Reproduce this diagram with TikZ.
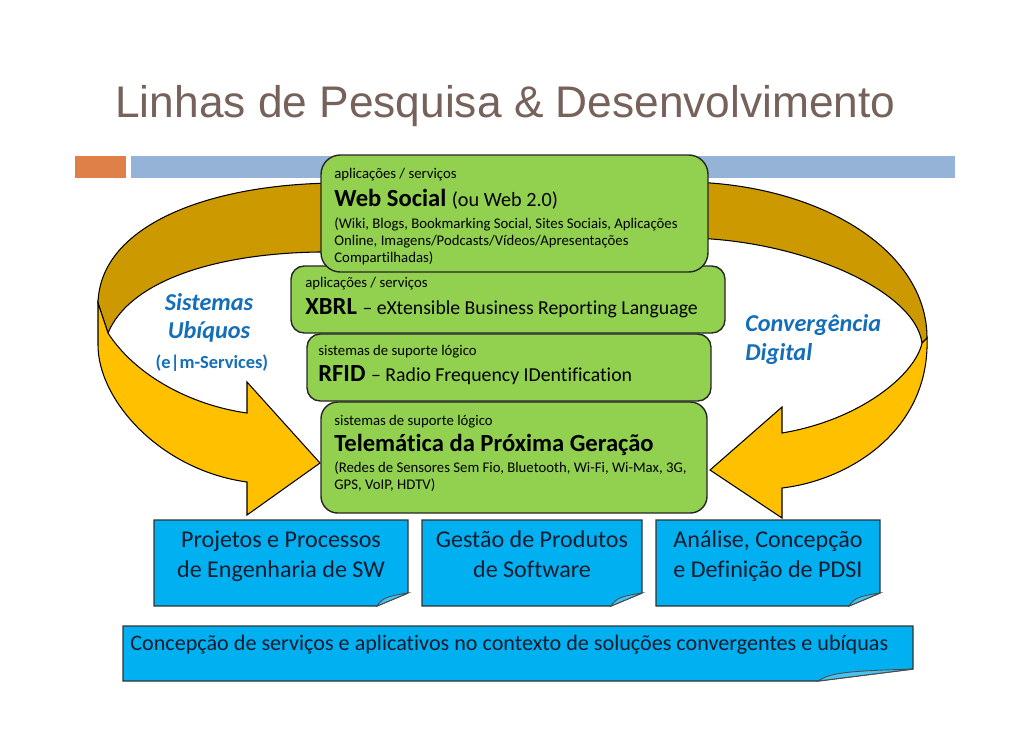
\documentclass[tikz,border=0pt]{standalone}
\usepackage{fontspec}
\setmainfont{Carlito}[Ligatures=NoCommon]
\newfontfamily\titlefont{Liberation Sans}
\definecolor{boxgreen}{RGB}{146,208,80}
\definecolor{boxblue}{RGB}{0,176,240}
\definecolor{flapblue}{RGB}{70,195,240}
\definecolor{darkgold}{RGB}{204,153,0}
\definecolor{gold}{RGB}{255,192,0}
\definecolor{labelblue}{RGB}{20,110,185}
\definecolor{titlec}{RGB}{118,98,90}
\definecolor{orangebar}{RGB}{223,128,72}
\definecolor{bluebar}{RGB}{149,179,215}
\definecolor{bluetxt}{RGB}{22,28,45}
\newcommand{\smallsz}{\fontsize{8.4}{10}\selectfont}
\newcommand{\medsz}{\fontsize{11.25}{13}\selectfont}
\newcommand{\bigsz}{\fontsize{14}{16}\selectfont\bfseries}
\tikzset{
  greenbox/.style={draw=black!85, fill=boxgreen, line width=0.8pt},
  bluebox/.style={draw=black!80, fill=boxblue, line width=0.7pt},
  flap/.style={draw=black!70, fill=flapblue, line width=0.5pt},
  ribbon/.style={draw=black, line width=0.6pt},
  txt/.style={anchor=base west, inner sep=0pt},
  smalltxt/.style={txt, font=\smallsz},
  bluetext/.style={anchor=base, inner sep=0pt, text=bluetxt, font=\fontsize{13.7}{16}\selectfont},
  sidetext/.style={anchor=base, inner sep=0pt, text=labelblue, font=\fontsize{13.8}{16}\selectfont\bfseries\itshape},
}
\begin{document}
\begin{tikzpicture}[x=0.02cm,y=-0.02cm]
\useasboundingbox[fill=white] (0,0) rectangle (1030,728);

% title
\node[txt, text=titlec, font=\titlefont\fontsize{25.2}{30}\selectfont] (title) at (115,117) {Linhas de Pesquisa \& Desenvolvimento};
\fill[orangebar] (75,156) rectangle (126,178);
\fill[bluebar] (131,156) rectangle (955,178);

% left ribbon
\path[ribbon, fill=darkgold] (340,183) .. controls (210,183) and (100,225) .. (98,303)
  -- (108,333) .. controls (130,280) and (220,250) .. (340,252) -- cycle;
\path[ribbon, fill=gold] (98,303) -- (108,333) .. controls (135,375) and (190,405) .. (247,413)
  -- (247,382) -- (320,463) -- (247,515) -- (247,482)
  .. controls (160,470) and (98,400) .. (98,345) -- cycle;

% right ribbon
\path[ribbon, fill=darkgold] (690,182) .. controls (820,185) and (927,250) .. (927,338)
  -- (922,343) .. controls (915,290) and (800,240) .. (690,238) -- cycle;
\path[ribbon, fill=gold] (927,338) -- (922,343) .. controls (915,375) and (860,420) .. (782,433)
  -- (782,407) -- (710,470) -- (782,518) -- (782,488)
  .. controls (850,480) and (930,430) .. (927,338) -- cycle;

% green boxes
\path[greenbox, rounded corners=7.5pt] (291,266) rectangle (725,333);
\path[greenbox, rounded corners=7.5pt] (307,334) rectangle (711,401);
\path[greenbox, rounded corners=9.5pt] (321,402) rectangle (707,513);
\path[greenbox, rounded corners=11pt] (321,155) rectangle (708,272);

% Web Social
\node[smalltxt] (wsl) at (334,178) {aplicações / serviços};
\node[txt] (wst) at (334,206) {\bigsz Web Social \mdseries\fontsize{11.5}{13}\selectfont(ou Web 2.0)};
\node[smalltxt] (wsd1) at (334,228) {(Wiki, Blogs, Bookmarking Social, Sites Sociais, Aplicações};
\node[smalltxt] (wsd2) at (334,245) {Online, Imagens/Podcasts/Vídeos/Apresentações};
\node[smalltxt] (wsd3) at (334,262) {Compartilhadas)};

% XBRL
\node[smalltxt] (xl) at (305,287) {aplicações / serviços};
\node[txt] (xt) at (305,314) {\bigsz XBRL \mdseries\medsz – eXtensible Business Reporting Language};

% RFID
\node[smalltxt] (rl) at (318,355) {sistemas de suporte lógico};
\node[txt] (rt) at (318,381) {\bigsz RFID \mdseries\medsz – Radio Frequency IDentification};

% Telematica
\node[smalltxt] (tl) at (334,425) {sistemas de suporte lógico};
\node[txt] (tt) at (334,451) {\bigsz Telemática da Próxima Geração};
\node[smalltxt] (td1) at (334,472) {(Redes de Sensores Sem Fio, Bluetooth, Wi-Fi, Wi-Max, 3G,};
\node[smalltxt] (td2) at (334,489) {GPS, VoIP, HDTV)};

% side labels
\node[sidetext] (su1) at (209,310) {Sistemas};
\node[sidetext] (su2) at (209,338) {Ubíquos};
\node[anchor=base, inner sep=0pt, text=labelblue, font=\fontsize{10.5}{12}\selectfont\bfseries] (su3) at (212,368) {(e|m-Services)};
\node[txt, text=labelblue, font=\fontsize{13.8}{16}\selectfont\bfseries\itshape] (cd1) at (745,331) {Convergência};
\node[txt, text=labelblue, font=\fontsize{13.8}{16}\selectfont\bfseries\itshape] (cd2) at (745,360) {Digital};

% blue boxes
\path[bluebox] (154,520) -- (408,520) -- (408,593) -- (377,606) -- (154,606) -- cycle;
\path[flap] (377,606) .. controls (382,598) and (388,596) .. (408,593) -- cycle;
\path[bluebox] (422,520) -- (642,520) -- (642,593) -- (611,606) -- (422,606) -- cycle;
\path[flap] (611,606) .. controls (616,598) and (622,596) .. (642,593) -- cycle;
\path[bluebox] (656,520) -- (880,520) -- (880,593) -- (849,606) -- (656,606) -- cycle;
\path[flap] (849,606) .. controls (854,598) and (860,596) .. (880,593) -- cycle;

\node[bluetext] (b1a) at (281,547) {Projetos e Processos};
\node[bluetext] (b1b) at (281,577) {de Engenharia de SW};
\node[bluetext] (b2a) at (532,547) {Gestão de Produtos};
\node[bluetext] (b2b) at (532,577) {de Software};
\node[bluetext] (b3a) at (768,547) {Análise, Concepção};
\node[bluetext] (b3b) at (768,577) {e Definição de PDSI};

% bottom bar
\path[bluebox] (123,626) -- (913,626) -- (913,669) -- (818,681) -- (123,681) -- cycle;
\path[flap] (818,681) .. controls (830,673) and (845,671) .. (913,669) -- cycle;
\node[txt, text=bluetxt, font=\fontsize{12.6}{15}\selectfont] (bb) at (130,650) {Concepção de serviços e aplicativos no contexto de soluções convergentes e ubíquas};
\end{tikzpicture}
\end{document}
